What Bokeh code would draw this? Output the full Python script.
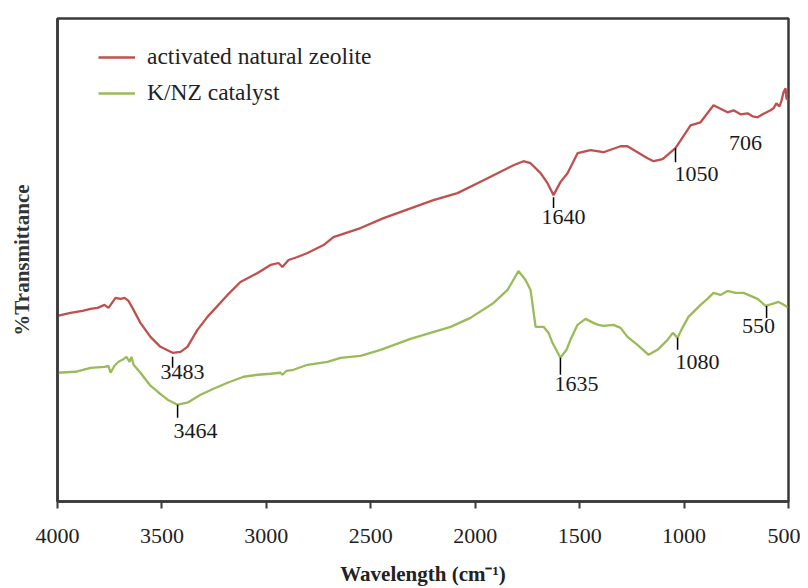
from bokeh.plotting import figure
from bokeh.models import Range1d, FixedTicker, Legend, LegendItem, ColumnDataSource
from bokeh.embed import file_html
from bokeh.resources import INLINE

# ---- data (wavenumber in cm^-1, transmittance in arbitrary units) ----
zeolite_wn = [4000, 3938, 3880, 3842, 3808, 3775, 3756, 3722, 3698, 3679, 3660, 3636, 3603, 3555,
              3507, 3449, 3411, 3378, 3330, 3282, 3186, 3124, 3042, 2980, 2942, 2923, 2894, 2851,
              2803, 2726, 2679, 2549, 2439, 2200, 2085, 1960, 1817, 1769, 1735, 1687, 1654, 1625,
              1592, 1558, 1510, 1448, 1386, 1304, 1271, 1223, 1175, 1146, 1103, 1041, 969, 921,
              859, 792, 763, 730, 696, 672, 648, 624, 586, 572, 558, 543, 533, 524, 514, 510, 500]
zeolite_t = [186, 189, 191, 193, 194, 197, 194, 204, 203, 204, 201, 192, 179, 165,
             155, 149, 150, 155, 172, 185, 207, 220, 229, 237, 239, 235, 242, 245,
             249, 257, 265, 274, 284, 302, 309, 322, 337, 341, 339, 329, 319, 307,
             320, 329, 349, 352, 350, 356, 356, 350, 344, 341, 343, 354, 377, 380,
             397, 390, 392, 388, 389, 386, 385, 388, 392, 394, 399, 396, 402, 410, 414, 404, 402]

knz_wn = [4000, 3914, 3842, 3775, 3756, 3746, 3727, 3708, 3689, 3670, 3655, 3646, 3636, 3603,
          3555, 3521, 3473, 3425, 3378, 3315, 3253, 3186, 3109, 3042, 2980, 2932, 2923, 2904,
          2870, 2803, 2707, 2645, 2549, 2453, 2310, 2214, 2118, 2023, 1912, 1845, 1793, 1759,
          1735, 1711, 1673, 1649, 1630, 1592, 1563, 1544, 1510, 1472, 1434, 1410, 1386, 1338,
          1304, 1271, 1223, 1170, 1127, 1079, 1054, 1031, 1008, 979, 921, 888, 859, 826, 792,
          754, 715, 648, 610, 577, 548, 529, 505]
knz_t = [129, 130, 134, 135, 136, 129, 136, 140, 142, 145, 140, 145, 137, 129,
         116, 110, 102, 97, 99, 107, 113, 119, 125, 127, 128, 129, 127, 131,
         132, 137, 140, 144, 146, 152, 163, 169, 175, 184, 199, 212, 231, 222,
         212, 175, 175, 169, 159, 144, 152, 162, 177, 183, 179, 177, 176, 177,
         174, 165, 157, 147, 152, 162, 169, 164, 174, 185, 197, 203, 209, 207, 211,
         209, 209, 203, 196, 198, 200, 198, 195]

# peak markers: position, top and bottom of the marker stroke
peak_x = [3449, 1625, 1041, 3425, 1592, 1031, 605]
peak_top = [145, 305, 354, 97, 144, 164, 196]
peak_bottom = [134, 294, 340, 84, 127, 152, 184]

# peak labels
label_text = ["3483", "1640", "1050", "706", "3464", "1635", "1080", "550"]
label_x = [3401, 1577, 941, 706, 3339, 1515, 936, 644]
label_y = [130, 285, 328, 359, 71, 118, 140, 176]

x_ticks = [4000, 3500, 3000, 2500, 2000, 1500, 1000, 500]
series_names = ["activated natural zeolite", "K/NZ catalyst"]

RED = "#C0504D"
GREEN = "#9BBB59"
FRAME = "#3a3a3a"
FONT = "Liberation Serif"

p = figure(width=800, height=588, output_backend="svg", toolbar_location=None,
           x_range=Range1d(4000, 500), y_range=Range1d(0, 484),
           min_border_left=57, min_border_right=12, min_border_top=18, min_border_bottom=86)
p.background_fill_color = "white"
p.border_fill_color = "white"
p.outline_line_color = FRAME
p.outline_line_width = 2.5
p.xgrid.visible = False
p.ygrid.visible = False

r1 = p.line(zeolite_wn, zeolite_t, line_color=RED, line_width=2.3)
r2 = p.line(knz_wn, knz_t, line_color=GREEN, line_width=2.3)

p.segment(x0=peak_x, y0=peak_top, x1=peak_x, y1=peak_bottom, line_color="black", line_width=1.5)

src = ColumnDataSource(dict(x=label_x, y=label_y, t=label_text))
p.text(x="x", y="y", text="t", source=src, text_align="center", text_baseline="middle",
       text_font=FONT, text_font_size="22px", text_color="#1a1a1a")

# x axis
xa = p.xaxis[0]
xa.ticker = FixedTicker(ticks=x_ticks)
xa.minor_tick_line_color = None
xa.major_tick_in = 0
xa.major_tick_out = 7
xa.major_tick_line_color = FRAME
xa.major_tick_line_width = 2
xa.axis_line_color = FRAME
xa.axis_line_width = 2.5
xa.major_label_text_font = FONT
xa.major_label_text_font_size = "22px"
xa.major_label_text_color = "#222222"
xa.major_label_standoff = 20
xa.axis_label = "Wavelength (cm\u207b\u00b9)"
xa.axis_label_text_font = FONT
xa.axis_label_text_font_style = "bold"
xa.axis_label_text_font_size = "21px"
xa.axis_label_text_color = "#222222"
xa.axis_label_standoff = 16

# y axis
ya = p.yaxis[0]
ya.ticker = FixedTicker(ticks=[])
ya.minor_tick_line_color = None
ya.major_tick_line_color = None
ya.axis_line_color = FRAME
ya.axis_line_width = 2.5
ya.axis_label = "%Transmittance"
ya.axis_label_text_font = FONT
ya.axis_label_text_font_style = "bold"
ya.axis_label_text_font_size = "21px"
ya.axis_label_text_color = "#333333"
ya.axis_label_standoff = 24

legend = Legend(items=[LegendItem(label=series_names[0], renderers=[r1]),
                       LegendItem(label=series_names[1], renderers=[r2])],
                location=(41, 395), orientation="vertical",
                border_line_color=None, background_fill_alpha=0,
                glyph_width=37, glyph_height=26, label_height=26, spacing=9,
                label_standoff=12, padding=0, margin=0,
                label_text_font=FONT, label_text_font_size="23.5px", label_text_color="#222222")
p.add_layout(legend)

open("out.html", "w").write(file_html(p, INLINE))
